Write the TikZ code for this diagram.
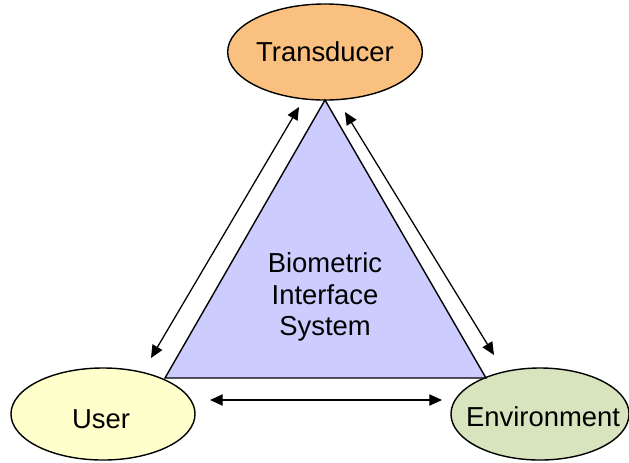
\documentclass[tikz,border=0pt]{standalone}
\usepackage{fontspec}
\setmainfont{Liberation Sans}
\usetikzlibrary{shapes.geometric,arrows.meta}

\definecolor{transfill}{RGB}{250,192,128}
\definecolor{userfill}{RGB}{255,255,204}
\definecolor{envfill}{RGB}{215,228,189}
\definecolor{bisfill}{RGB}{204,204,255}

\tikzset{
  party/.style={ellipse,draw,line width=1pt,inner sep=0pt,
    font=\fontsize{19.5}{23}\selectfont},
  link/.style={{Triangle[length=9pt,width=8pt]}-{Triangle[length=9pt,width=8pt]},line width=0.9pt}
}

\begin{document}
\begin{tikzpicture}[x=0.025cm,y=-0.025cm]
   \useasboundingbox (0,0) rectangle (629,462);
   % the three parties
   \node[party,fill=transfill,minimum width=4.65cm,minimum height=2.4cm] (trans) at (325,52) {Transducer};
   \node[party,fill=userfill,minimum width=4.6cm,minimum height=2.3cm] (user) at (103,414) {};
   \node[party,fill=envfill,minimum width=4.45cm,minimum height=2.3cm] (env) at (540,414) {};
   \node[font=\fontsize{19.5}{23}\selectfont] (userlab) at (101,419) {User};
   \node[font=\fontsize{19.5}{23}\selectfont] (envlab) at (543,417) {Environment};
   % the system in the middle
   \coordinate (top) at (325,100);
   \coordinate (bl) at (165,378);
   \coordinate (br) at (486,378);
   \filldraw[fill=bisfill,line width=1pt,line join=miter] (top) -- (bl) -- (br) -- cycle;
   \node[align=center,font=\fontsize{19.5}{22.5}\selectfont] (bis) at (325,297) {Biometric\\Interface\\System};
   % interactions
   \coordinate (ut) at (151,358);
   \coordinate (tu) at (299,107);
   \coordinate (te) at (345,112);
   \coordinate (et) at (494,355);
   \coordinate (ue) at (210,400);
   \coordinate (eu) at (442,400);
   \draw[link] (ut) -- (tu);
   \draw[link] (te) -- (et);
   \draw[link] (ue) -- (eu);
\end{tikzpicture}
\end{document}
